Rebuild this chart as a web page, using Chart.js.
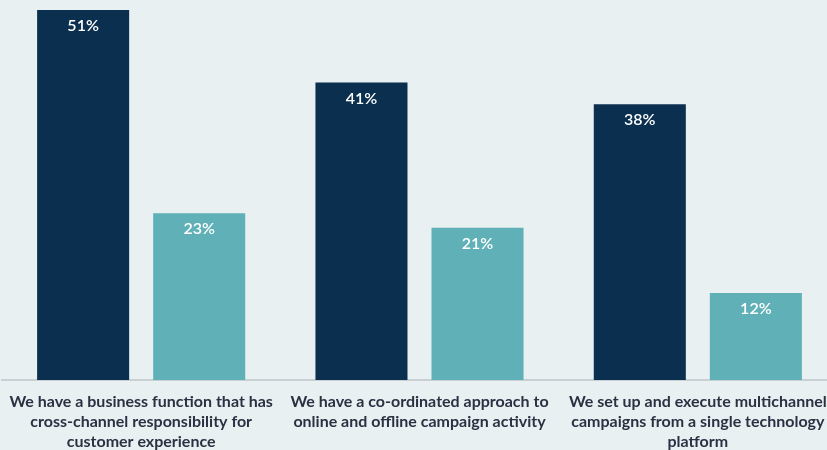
<!DOCTYPE html>
<html>
<head>
<meta charset="utf-8">
<script src="https://cdn.jsdelivr.net/npm/chart.js@4/dist/chart.umd.min.js"></script>
<style>
  html, body { margin: 0; padding: 0; background: #e8f0f2; overflow: hidden; }
  #wrap { width: 837px; height: 450px; position: relative; }
</style>
</head>
<body>
<div id="wrap"><canvas id="c"></canvas></div>
<script>
const categories = [
  ["We have a business function that has", "cross-channel responsibility for", "customer experience"],
  ["We have a co-ordinated approach to", "online and offline campaign activity"],
  ["We set up and execute multichannel", "campaigns from a single technology", "platform"]
];
const seriesA = [51, 41, 38];
const seriesB = [23, 21, 12];

// White percentage labels placed just inside the top of each bar
const valueLabels = {
  id: 'valueLabels',
  afterDatasetsDraw(chart) {
    const ctx = chart.ctx;
    ctx.save();
    ctx.fillStyle = '#ffffff';
    ctx.font = '600 16px Lato, "Open Sans", sans-serif';
    ctx.textAlign = 'center';
    ctx.textBaseline = 'middle';
    chart.data.datasets.forEach((ds, i) => {
      chart.getDatasetMeta(i).data.forEach((el, j) => {
        ctx.fillText(ds.data[j] + '%', el.x, el.y + 16);
      });
    });
    ctx.restore();
  }
};

new Chart(document.getElementById('c'), {
  type: 'bar',
  data: {
    labels: categories,
    datasets: [
      { data: seriesA, backgroundColor: '#0a2f4f', categoryPercentage: 0.834, barPercentage: 0.793 },
      { data: seriesB, backgroundColor: '#5fb0b7', categoryPercentage: 0.834, barPercentage: 0.793 }
    ]
  },
  options: {
    responsive: true,
    maintainAspectRatio: false,
    animation: false,
    layout: { padding: { top: 10, left: 2, right: 0, bottom: 0 } },
    plugins: { legend: { display: false }, tooltip: { enabled: false } },
    scales: {
      x: {
        grid: { display: false, drawTicks: false },
        border: { display: true, color: '#c9d0d3', width: 2 },
        ticks: {
          color: '#2b3142',
          padding: 12,
          maxRotation: 0,
          autoSkip: false,
          font: { family: 'Lato, "Open Sans", sans-serif', size: 16, weight: 'bold', lineHeight: 1.25 }
        },
        afterFit(scale) {
          scale.height = 70;
          // let the outer labels run to the canvas edge instead of squeezing the plot
          scale.paddingLeft = 0;
          scale.paddingRight = 0;
        }
      },
      y: { display: false, min: 0, max: 51 }
    }
  },
  plugins: [valueLabels]
});
</script>
</body>
</html>
